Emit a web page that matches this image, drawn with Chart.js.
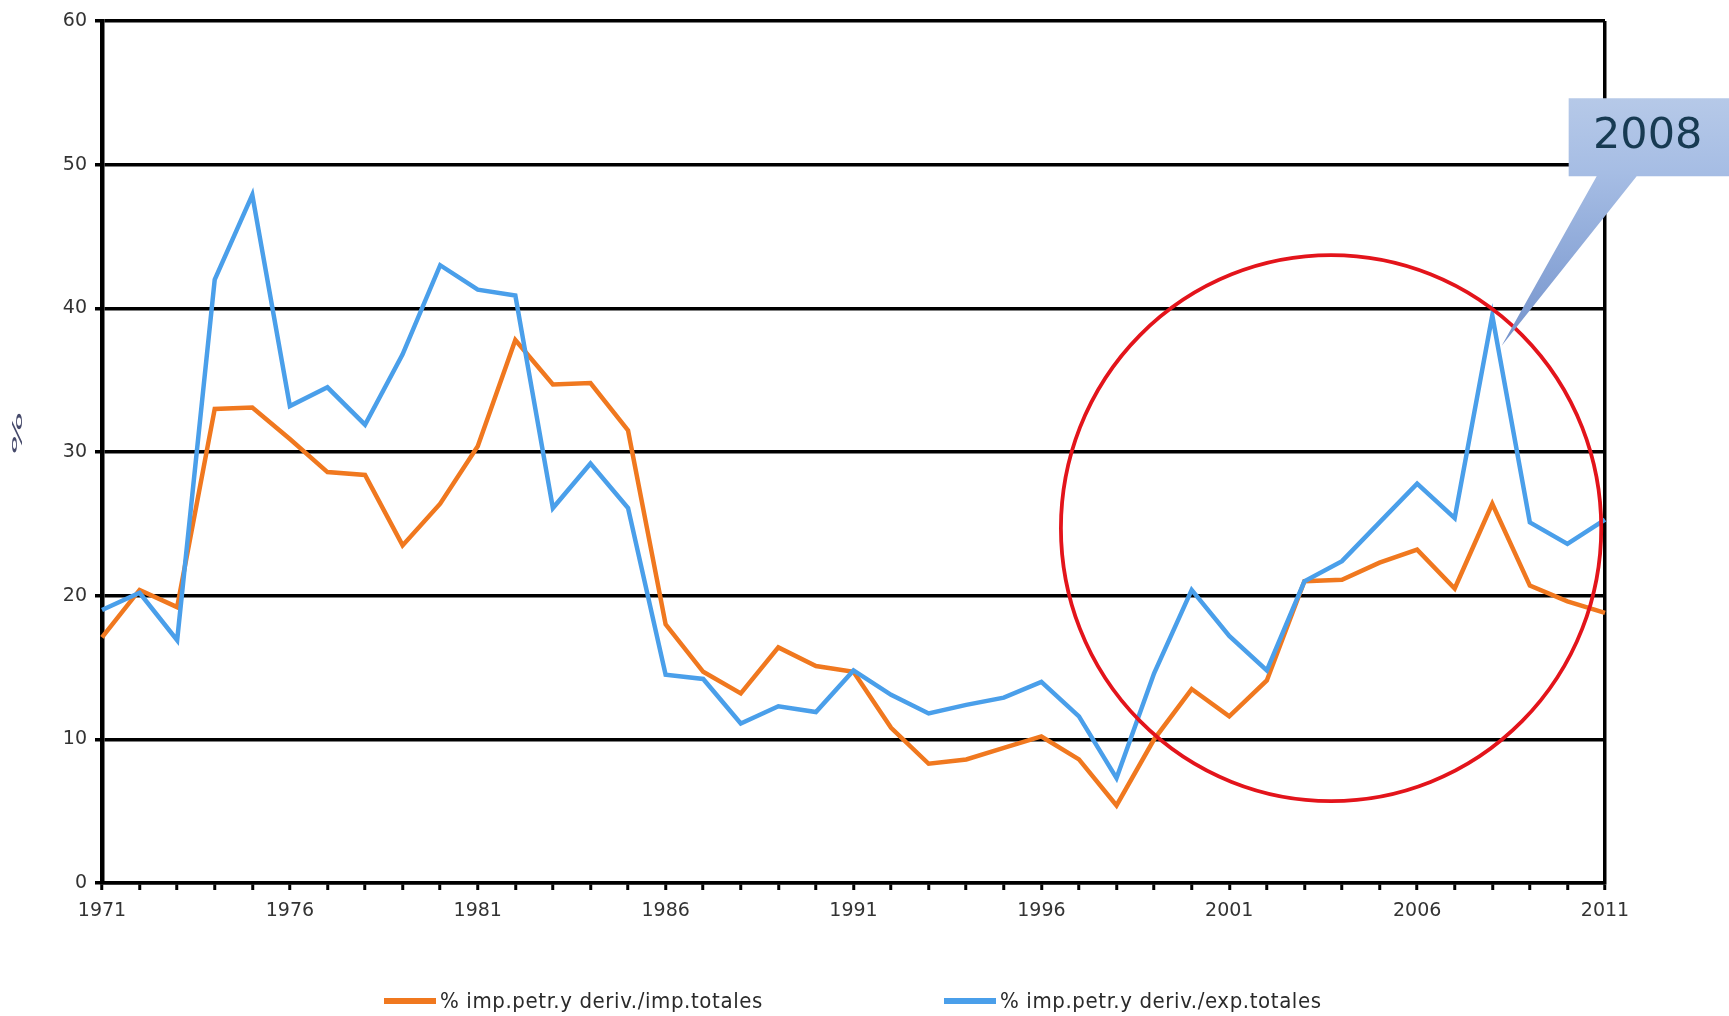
<!DOCTYPE html>
<html>
<head>
<meta charset="utf-8">
<script src="https://cdn.jsdelivr.net/npm/chart.js@4/dist/chart.umd.min.js"></script>
<style>
  html, body { margin: 0; padding: 0; background: #fff; }
  #wrap { position: relative; width: 1729px; height: 1016px; overflow: hidden; }
  #c { position: absolute; left: 0; top: 0; }
  .legend { position: absolute; top: 989px; height: 24px; display: flex; align-items: center;
            font-family: "DejaVu Sans Condensed", "DejaVu Sans", Verdana, sans-serif;
            font-stretch: condensed; font-size: 22px; letter-spacing: 0.6px; color: #2a2a2a;
            white-space: nowrap; line-height: 24px; }
  .legend i { display: inline-block; width: 52px; height: 5.5px; margin-right: 4px; }
</style>
</head>
<body>
<div id="wrap">
  <canvas id="c" width="1729" height="1016"></canvas>
  <div class="legend" style="left:384px"><i style="background:#f0781f"></i><span id="lg0"></span></div>
  <div class="legend" style="left:944px"><i style="background:#4a9fea"></i><span id="lg1"></span></div>
</div>
<script>
// Years on the category axis
const years = ['1971','1972','1973','1974','1975','1976','1977','1978','1979','1980',
               '1981','1982','1983','1984','1985','1986','1987','1988','1989','1990',
               '1991','1992','1993','1994','1995','1996','1997','1998','1999','2000',
               '2001','2002','2003','2004','2005','2006','2007','2008','2009','2010','2011'];
// Only every fifth year carries a label
const labelEvery = 5;

// Oil and derivatives imports as % of total imports
const pctOfImports = [17.1, 20.4, 19.2, 33.0, 33.1, 30.9, 28.6, 28.4, 23.5, 26.4,
                      30.4, 37.8, 34.7, 34.8, 31.5, 18.0, 14.7, 13.2, 16.4, 15.1,
                      14.7, 10.8, 8.3, 8.6, 9.4, 10.2, 8.6, 5.4, 10.0, 13.5,
                      11.6, 14.1, 21.0, 21.1, 22.3, 23.2, 20.5, 26.4, 20.7, 19.6, 18.8];
// Oil and derivatives imports as % of total exports
const pctOfExports = [19.0, 20.2, 16.9, 42.0, 47.9, 33.2, 34.5, 31.9, 36.8, 43.0,
                      41.3, 40.9, 26.1, 29.2, 26.1, 14.5, 14.2, 11.1, 12.3, 11.9,
                      14.8, 13.1, 11.8, 12.4, 12.9, 14.0, 11.6, 7.3, 14.6, 20.4,
                      17.2, 14.8, 21.0, 22.4, 25.1, 27.8, 25.4, 39.5, 25.1, 23.6, 25.3];

const seriesNames = ['% imp.petr.y deriv./imp.totales', '% imp.petr.y deriv./exp.totales'];
const yTicks = { min: 0, max: 60, step: 10 };
const yTitle = '%';

// Highlighted period (ellipse in data units) and the callout for the 2008 peak
const ring = { year: 2003.71, value: 24.7, halfYears: 7.19, halfValue: 19.0 };
const callout = { text: '2008', year: 2008.25, value: 37.4 };

document.getElementById('lg0').textContent = seriesNames[0];
document.getElementById('lg1').textContent = seriesNames[1];

const FONT = '"DejaVu Sans", Verdana, sans-serif';
const firstYear = Number(years[0]);

// Narrow, stretched "%" written bottom-to-top beside the value axis
const axisTitle = {
  id: 'axisTitle',
  afterDraw(chart) {
    const { ctx, chartArea } = chart;
    ctx.save();
    ctx.translate(18, chartArea.top + (chartArea.bottom - chartArea.top) * 0.478);
    ctx.rotate(-Math.PI / 2);
    ctx.scale(2.3, 0.7);
    ctx.font = '20px ' + FONT;
    ctx.fillStyle = '#45496a';
    ctx.textAlign = 'center';
    ctx.textBaseline = 'middle';
    ctx.fillText(yTitle, 0, 0);
    ctx.restore();
  }
};

const overlay = {
  id: 'overlay',
  afterDatasetsDraw(chart) {
    const { ctx, scales: { x, y } } = chart;
    // red ellipse around recent years
    const cx = x.getPixelForValue(ring.year - firstYear);
    const cy = y.getPixelForValue(ring.value);
    const rx = Math.abs(x.getPixelForValue(ring.year + ring.halfYears - firstYear) - cx);
    const ry = Math.abs(y.getPixelForValue(ring.value + ring.halfValue) - cy);
    ctx.save();
    ctx.beginPath();
    ctx.ellipse(cx, cy, rx, ry, 0, 0, Math.PI * 2);
    ctx.strokeStyle = '#e3141b';
    ctx.lineWidth = 3.8;
    ctx.stroke();

    // callout box with pointer
    const tx = x.getPixelForValue(callout.year - firstYear);
    const ty = y.getPixelForValue(callout.value);
    const boxL = tx + 67, boxT = ty - 247.5, boxB = ty - 169.5, boxR = chart.width + 5;
    const g = ctx.createLinearGradient(0, boxT, 0, ty);
    g.addColorStop(0, '#b6c9e8');
    g.addColorStop(0.3, '#a6bde4');
    g.addColorStop(1, '#7493cc');
    ctx.beginPath();
    ctx.moveTo(boxL, boxT);
    ctx.lineTo(boxR, boxT);
    ctx.lineTo(boxR, boxB);
    ctx.lineTo(tx + 135, boxB);
    ctx.lineTo(tx, ty);
    ctx.lineTo(tx + 95, boxB);
    ctx.lineTo(boxL, boxB);
    ctx.closePath();
    ctx.fillStyle = g;
    ctx.fill();
    ctx.fillStyle = '#173a52';
    ctx.font = '43px ' + FONT;
    ctx.textAlign = 'center';
    ctx.textBaseline = 'middle';
    ctx.fillText(callout.text, tx + 146, (boxT + boxB) / 2);
    ctx.restore();
  }
};

new Chart(document.getElementById('c'), {
  type: 'line',
  data: {
    labels: years,
    datasets: [
      { label: seriesNames[0], data: pctOfImports, borderColor: '#f0781f', borderWidth: 4.5,
        pointRadius: 0, tension: 0, fill: false, order: 2 },
      { label: seriesNames[1], data: pctOfExports, borderColor: '#4a9fea', borderWidth: 4.5,
        pointRadius: 0, tension: 0, fill: false, order: 1 }
    ]
  },
  options: {
    responsive: false,
    animation: false,
    layout: { padding: { left: 0, right: 124, top: 21, bottom: 0 } },
    plugins: { legend: { display: false }, tooltip: { enabled: false } },
    scales: {
      x: {
        offset: false,
        afterFit(s) { s.height = 133; },
        border: { color: '#000', width: 3.5 },
        grid: {
          drawOnChartArea: true,
          color: (c) => c.index === years.length - 1 ? '#000' : 'rgba(0,0,0,0)',
          lineWidth: 3.5,
          tickColor: '#000',
          tickWidth: 3,
          tickLength: 7
        },
        ticks: {
          autoSkip: false, maxRotation: 0, minRotation: 0, padding: 10,
          color: '#333', font: { family: FONT, size: 19 },
          callback: (v, i) => (i % labelEvery === 0 ? years[i] : '')
        }
      },
      y: {
        min: yTicks.min, max: yTicks.max,
        afterFit(s) { s.width = 102; },
        border: { color: '#000', width: 4.5 },
        grid: { color: '#000', lineWidth: 3.5, tickLength: 7 },
        ticks: { stepSize: yTicks.step, padding: 8, color: '#333', font: { family: FONT, size: 19 } }
      }
    }
  },
  plugins: [overlay, axisTitle]
});
</script>
</body>
</html>
